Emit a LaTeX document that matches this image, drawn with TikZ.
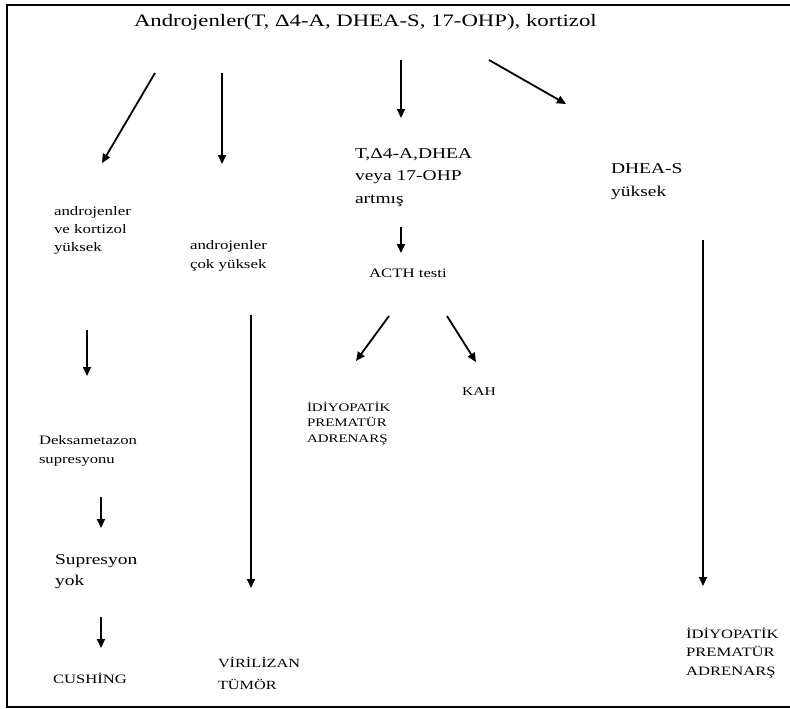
\documentclass[tikz,border=0pt]{standalone}
\usepackage{fontspec}
\setmainfont{Liberation Serif}
\usepackage{graphicx}
\usetikzlibrary{arrows.meta}
\newcommand{\stx}[1]{\scalebox{1.3}[1]{\begin{tabular}[t]{@{}l@{}}#1\end{tabular}}}
\newcommand{\fs}[2]{\fontsize{#1}{#2}\selectfont}
\begin{document}
\begin{tikzpicture}[x=1pt,y=-1pt,
  txt/.style={inner sep=0pt, outer sep=0pt, anchor=base west},
  arr/.style={line width=1.8pt, -{Triangle[length=9pt,width=8pt]}, shorten >=0pt},
  frame/.style={line width=2pt}]
\useasboundingbox (0,0) rectangle (790,709);
\clip (0,0) rectangle (790,709);
\fill[white] (0,0) rectangle (790,709);
\draw[frame] (800,5) -- (7,5) -- (7,707) -- (800,707);
% texts
\node[txt, font=\fs{17.5}{20}] (title) at (134,27) {\stx{Androjenler(T, Δ4-A, DHEA-S, 17-OHP), kortizol}};
\node[txt, font=\fs{13}{18}] (ak) at (54,215) {\stx{androjenler\\ve kortizol\\yüksek}};
\node[txt, font=\fs{13}{19}] (acy) at (190,249) {\stx{androjenler\\çok yüksek}};
\node[txt, font=\fs{15}{22.5}] (tda) at (355,158) {\stx{T,Δ4-A,DHEA\\veya 17-OHP\\artmış}};
\node[txt, font=\fs{12.9}{16}] (acth) at (369,277) {\stx{ACTH testi}};
\node[txt, font=\fs{15}{23}] (dheas) at (611,173) {\stx{DHEA-S\\yüksek}};
\node[txt, font=\fs{11.5}{15.5}] (ipa1) at (307,411) {\stx{İDİYOPATİK\\PREMATÜR\\ADRENARŞ}};
\node[txt, font=\fs{12}{15}] (kah) at (462,395) {\stx{KAH}};
\node[txt, font=\fs{12.8}{19.5}] (deks) at (39,444) {\stx{Deksametazon\\supresyonu}};
\node[txt, font=\fs{15}{21}] (sup) at (55,564) {\stx{Supresyon\\yok}};
\node[txt, font=\fs{12.8}{16}] (cush) at (53,683) {\stx{CUSHİNG}};
\node[txt, font=\fs{12.5}{22}] (vir) at (218,667) {\stx{VİRİLİZAN\\TÜMÖR}};
\node[txt, font=\fs{12.8}{18.5}] (ipa2) at (686,638) {\stx{İDİYOPATİK\\PREMATÜR\\ADRENARŞ}};
% arrow end points
\coordinate (a1s) at (155,73);  \coordinate (a1e) at (102,163);
\coordinate (a2s) at (222,73);  \coordinate (a2e) at (222,164);
\coordinate (a3s) at (401,60);  \coordinate (a3e) at (401,118);
\coordinate (a4s) at (489,60);  \coordinate (a4e) at (566,104);
\coordinate (a5s) at (401,227); \coordinate (a5e) at (401,253);
\coordinate (a6s) at (389,316); \coordinate (a6e) at (356,361);
\coordinate (a7s) at (447,316); \coordinate (a7e) at (476,362);
\coordinate (a8s) at (87,330);  \coordinate (a8e) at (87,376);
\coordinate (a9s) at (251,315); \coordinate (a9e) at (251,588);
\coordinate (a10s) at (101,497); \coordinate (a10e) at (101,528);
\coordinate (a11s) at (101,617); \coordinate (a11e) at (101,648);
\coordinate (a12s) at (703,240); \coordinate (a12e) at (703,586);
\foreach \i in {1,...,12} {\draw[arr] (a\i s) -- (a\i e);}
\end{tikzpicture}
\end{document}
